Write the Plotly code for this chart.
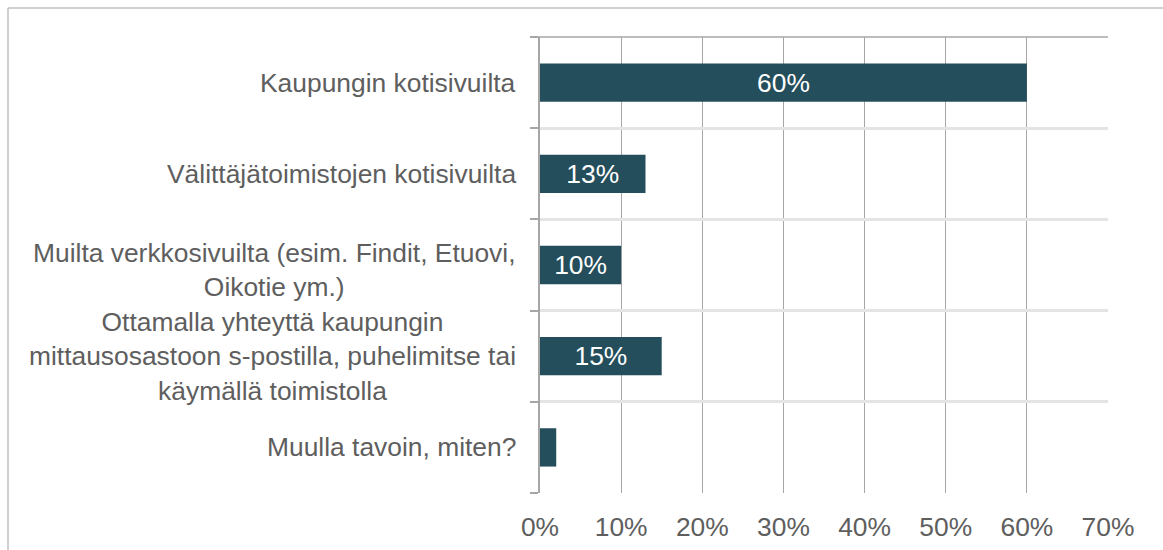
import plotly.graph_objects as go

categories = [
    "Kaupungin kotisivuilta",
    "Välittäjätoimistojen kotisivuilta",
    "Muilta verkkosivuilta (esim. Findit, Etuovi,<br>Oikotie ym.)",
    "Ottamalla yhteyttä kaupungin<br>mittausosastoon s-postilla, puhelimitse tai<br>käymällä toimistolla",
    "Muulla tavoin, miten?",
]
values = [60, 13, 10, 15, 2]
x_ticks = [0, 10, 20, 30, 40, 50, 60, 70]
x_tick_labels = ["0%", "10%", "20%", "30%", "40%", "50%", "60%", "70%"]

W, H = 1163, 550
L, R, T, B = 540, 55, 37, 57
PW = W - L - R
PH = H - T - B

FONT = "Liberation Sans, Arial, sans-serif"
TXT = "#5e5e5e"
BAR = "#244E5B"
GRID = "#a6a6a6"
LIGHT = "#e4e4e4"
FS = 26.4

fig = go.Figure()
fig.add_trace(go.Bar(
    y=categories, x=values, orientation="h",
    marker=dict(color=BAR, line=dict(width=0)),
    text=[f"{v}%" for v in values],
    textposition="inside", insidetextanchor="middle",
    textfont=dict(color="white", size=FS, family=FONT),
    hoverinfo="skip",
))

def px_x(p):
    return (p - L) / PW

def px_y(p):
    return 1 - (p - T) / PH

annotations = []
for c in categories:
    n_lines = c.count("<br>") + 1
    annotations.append(dict(
        x=px_x(518), xref="paper", y=c, yref="y", text=c,
        xanchor="right", yanchor="middle", align="center", showarrow=False,
        yshift=-5 if n_lines == 2 else 0,
        font=dict(size=FS, color=TXT, family=FONT),
    ))

shapes = [
    dict(type="line", xref="paper", yref="paper", x0=px_x(8), x1=px_x(W + 5), y0=px_y(8), y1=px_y(8),
         line=dict(color="#bfbfbf", width=1.5)),
    dict(type="line", xref="paper", yref="paper", x0=px_x(8), x1=px_x(8), y0=px_y(8), y1=px_y(H + 5),
         line=dict(color="#bfbfbf", width=1.5)),
    dict(type="line", xref="paper", yref="paper", x0=px_x(532), x1=1, y0=1, y1=1,
         line=dict(color=GRID, width=1.5)),
]

fig.update_layout(
    width=W, height=H,
    margin=dict(l=L, r=R, t=T, b=B, pad=0, autoexpand=False),
    paper_bgcolor="white", plot_bgcolor="white",
    showlegend=False,
    bargap=0.58,
    uniformtext=dict(minsize=FS - 1, mode="hide"),
    font=dict(family=FONT, color=TXT, size=FS),
    annotations=annotations,
    shapes=shapes,
    xaxis=dict(
        range=[0, 70], tickvals=x_ticks, ticktext=x_tick_labels,
        showgrid=True, gridcolor=GRID, gridwidth=1,
        zeroline=False, showline=False, automargin=False,
        ticks="outside", ticklen=10, tickcolor="rgba(0,0,0,0)",
        tickfont=dict(size=FS, color=TXT, family=FONT),
        fixedrange=True,
    ),
    yaxis=dict(
        categoryorder="array", categoryarray=categories[::-1],
        tickson="boundaries", ticks="outside", ticklen=8, tickcolor=GRID, tickwidth=1.5,
        showticklabels=False, automargin=False,
        showgrid=True, gridcolor=LIGHT, gridwidth=2.5,
        showline=True, linecolor=GRID, linewidth=1.5,
        zeroline=False, fixedrange=True,
    ),
)

fig.write_html("out.html")
